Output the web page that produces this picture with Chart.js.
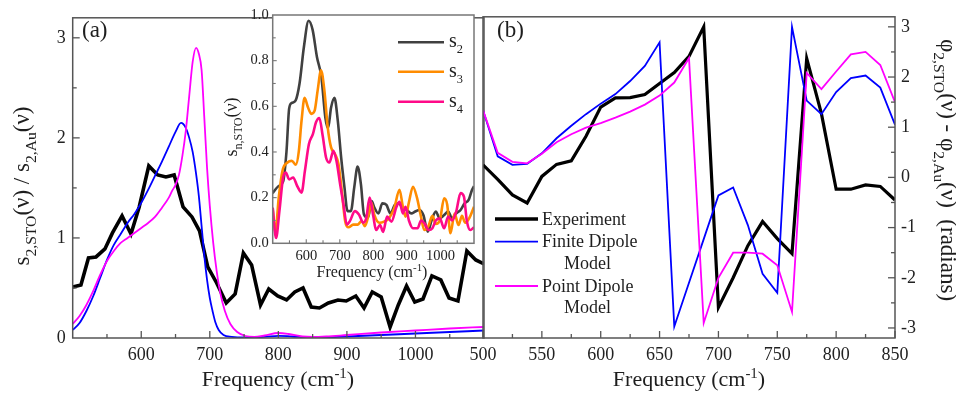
<!DOCTYPE html>
<html><head><meta charset="utf-8">
<script src="https://cdn.jsdelivr.net/npm/chart.js@4.4.1/dist/chart.umd.min.js"></script>
<style>
html,body{margin:0;padding:0;background:#fff;}
#wrap{position:relative;width:956px;height:394px;overflow:hidden;background:#fff;}
canvas{position:absolute;top:0;}
</style></head><body>
<div id="wrap">
<canvas id="ca" width="490" height="394" style="left:0px;top:0px"></canvas>
<canvas id="cb" width="493" height="394" style="left:463px;top:0px"></canvas>
<canvas id="ci" width="267" height="290" style="left:215px;top:0px"></canvas>
</div>
<script>
// ---------- Panel (a): amplitude ratio ----------
const aExpX = [500,512,523,534,547,558,572,585,597,611,624,636,648,661,674,685,697,710,724,737,749,761,774,786,799,812,824,836,848,860,873,887,899,913,925,937,950,963,975,987,999,1011,1024,1037,1049,1062,1075,1088,1100];
const aExpY = [0.51,0.53,0.80,0.81,0.89,1.05,1.22,1.04,1.31,1.72,1.63,1.61,1.63,1.31,1.21,1.07,0.71,0.55,0.35,0.44,0.85,0.73,0.33,0.49,0.42,0.38,0.46,0.50,0.31,0.30,0.35,0.38,0.37,0.42,0.30,0.46,0.41,0.11,0.33,0.52,0.36,0.39,0.62,0.58,0.40,0.37,0.87,0.78,0.74];
const aFinX = [500,510,520,530,540,550,560,570,580,590,600,610,620,630,640,650,658,665,670,675,680,684,688,692,696,700,704,708,713,720,732,750,780,800,820,850,900,950,1000,1050,1100];
const aFinY = [0.08,0.15,0.27,0.42,0.60,0.78,0.93,1.04,1.15,1.24,1.35,1.48,1.62,1.76,1.91,2.06,2.15,2.10,2.0,1.86,1.64,1.42,1.12,0.82,0.58,0.40,0.27,0.16,0.08,0.03,0.012,0.005,0.012,0.022,0.015,0.005,0.015,0.03,0.045,0.06,0.075];
const aPtX = [500,510,520,530,540,550,560,570,580,590,600,610,620,630,640,645,650,655,660,665,670,675,680,684,688,692,696,700,705,710,715,722,730,740,752,765,780,800,815,835,850,870,900,950,1000,1050,1100];
const aPtY = [0.14,0.22,0.33,0.47,0.63,0.77,0.87,0.95,1.0,1.05,1.1,1.15,1.21,1.30,1.40,1.47,1.53,1.63,1.82,2.07,2.42,2.76,2.9,2.84,2.68,2.2,1.7,1.32,0.95,0.67,0.46,0.27,0.14,0.06,0.02,0.012,0.025,0.05,0.04,0.015,0.01,0.015,0.03,0.055,0.075,0.095,0.11];
const aXTicks = [600,700,800,900,1000];
const aYTicks = [0,1,2,3];

// ---------- Inset: s_n,STO ----------
const s2X = [500,517,531,541,549,557,568,580,593,607,619,632,645,657,665,674,684,694,704,714,723,733,743,753,763,772,784,795,802,815,827,839,851,864,876,888,900,913,925,937,949,962,974,986,998,1011,1023,1035,1047,1060,1072,1084,1094,1100];
const s2Y = [0.22,0.25,0.27,0.40,0.59,0.615,0.625,0.70,0.86,0.975,0.935,0.815,0.73,0.55,0.505,0.595,0.637,0.537,0.376,0.244,0.141,0.141,0.244,0.336,0.258,0.126,0.112,0.185,0.16,0.131,0.175,0.168,0.131,0.168,0.175,0.153,0.146,0.131,0.139,0.146,0.124,0.051,0.102,0.139,0.109,0.124,0.139,0.109,0.131,0.146,0.175,0.19,0.234,0.25];
const s3X = [500,508,518,529,544,557,569,578,586,595,605,615,625,634,644,654,664,674,686,696,706,716,726,740,753,765,775,786,794,803,818,832,847,862,878,888,896,906,918,930,942,952,964,976,986,998,1011,1020,1030,1042,1054,1064,1074,1086,1100];
const s3Y = [0.15,0.05,0.2,0.317,0.354,0.361,0.344,0.405,0.537,0.637,0.596,0.567,0.581,0.67,0.758,0.67,0.508,0.42,0.39,0.347,0.229,0.097,0.07,0.082,0.082,0.097,0.075,0.126,0.178,0.124,0.09,0.095,0.11,0.153,0.234,0.16,0.117,0.18,0.248,0.2,0.117,0.058,0.075,0.12,0.085,0.1,0.197,0.17,0.044,0.13,0.08,0.12,0.09,0.11,0.16];
const s4X = [500,510,520,531,539,549,561,573,586,596,608,620,629,639,649,659,669,681,691,701,711,721,730,745,757,770,779,789,800,808,820,829,841,854,869,878,888,896,906,918,932,942,952,965,976,986,998,1011,1023,1035,1047,1060,1070,1079,1089,1100];
const s4Y = [0.156,0.023,0.141,0.288,0.31,0.28,0.288,0.251,0.222,0.317,0.435,0.479,0.53,0.549,0.471,0.376,0.354,0.405,0.354,0.258,0.17,0.082,0.097,0.141,0.126,0.09,0.112,0.2,0.117,0.058,0.08,0.05,0.117,0.095,0.16,0.182,0.131,0.16,0.10,0.066,0.066,0.10,0.088,0.058,0.066,0.10,0.109,0.066,0.117,0.10,0.139,0.22,0.204,0.095,0.058,0.07];
const iXTicks = [600,700,800,900,1000];
const iYTicks = [0,0.2,0.4,0.6,0.8,1.0];

// ---------- Panel (b): phase ----------
const bX = [500,512.5,525,537.5,550,562.5,575,587.5,600,612.5,625,637.5,650,662.5,675,687.5,700,712.5,725,737.5,750,762.5,775,787.5,800,812.5,825,837.5,850];
const bExp = [0.25,-0.04,-0.35,-0.51,0.02,0.26,0.33,0.82,1.40,1.585,1.59,1.65,1.87,2.09,2.41,3.0,-2.59,-2.0,-1.36,-0.88,-1.22,-1.52,2.37,1.27,-0.235,-0.235,-0.15,-0.18,-0.45];
const bFin = [1.34,0.42,0.25,0.27,0.48,0.78,1.03,1.26,1.47,1.66,1.92,2.22,2.69,-2.97,-2.10,-1.23,-0.36,-0.2,-0.95,-1.92,-2.3,3.0,1.53,1.26,1.70,1.98,2.03,1.79,1.05];
const bPt  = [1.34,0.49,0.31,0.28,0.47,0.70,0.86,0.99,1.08,1.19,1.31,1.45,1.63,1.89,2.38,-2.9,-2.0,-1.5,-1.5,-1.52,-1.75,-2.68,2.08,1.76,2.11,2.45,2.5,2.24,1.5];
const bXTicks = [500,550,600,650,700,750,800,850];
const bYTicks = [-3,-2,-1,0,1,2,3];

const SERIF = "'Liberation Serif','Times New Roman',serif";
const zip = (xs, ys) => xs.map((x, i) => ({x: x, y: ys[i]}));
const range = (a, b, s) => { const r = []; for (let v = a; v <= b + 1e-9; v += s) r.push(+v.toFixed(4)); return r; };

function drawRich(ctx, it, ox, oy) {
  const size = it.size, ss = it.subScale || 0.68;
  const segs = []; let w = 0;
  for (const p of it.parts) {
    const fs = p[1] === 'n' ? size : size * ss;
    ctx.font = fs + 'px ' + SERIF;
    const tw = ctx.measureText(p[0]).width;
    segs.push({t: p[0], k: p[1], fs: fs, tw: tw}); w += tw;
  }
  ctx.save();
  ctx.translate(it.x - ox, it.y - oy);
  ctx.rotate((it.rot || 0) * Math.PI / 180);
  ctx.fillStyle = it.color || '#1e1e1e';
  ctx.textBaseline = 'alphabetic';
  ctx.textAlign = 'left';
  let x = it.align === 'left' ? 0 : -w / 2;
  for (const s of segs) {
    ctx.font = s.fs + 'px ' + SERIF;
    const dy = s.k === 'sub' ? size * 0.3 : (s.k === 'sup' ? -size * 0.38 : 0);
    ctx.fillText(s.t, x, dy);
    x += s.tw;
  }
  ctx.restore();
}

const deco = {
  id: 'deco',
  beforeDraw(chart, args, o) {
    if (o.fill) {
      const a = chart.chartArea, ctx = chart.ctx;
      ctx.save(); ctx.fillStyle = o.fill; ctx.fillRect(a.left, a.top, a.right - a.left, a.bottom - a.top); ctx.restore();
    }
  },
  afterDraw(chart, args, o) {
    const ctx = chart.ctx, a = chart.chartArea;
    ctx.save();
    ctx.strokeStyle = o.frameColor || '#555';
    ctx.lineWidth = o.frameWidth || 1.5;
    ctx.strokeRect(a.left, a.top, a.right - a.left, a.bottom - a.top);
    for (const t of (o.ticks || [])) {
      const sc = chart.scales[t.axis];
      const draw = (vals, len) => {
        for (const v of vals) {
          const p = sc.getPixelForValue(v);
          ctx.beginPath();
          if (t.side === 'bottom') { ctx.moveTo(p, a.bottom); ctx.lineTo(p, a.bottom - len); }
          else if (t.side === 'left') { ctx.moveTo(a.left, p); ctx.lineTo(a.left + len, p); }
          else if (t.side === 'right') { ctx.moveTo(a.right, p); ctx.lineTo(a.right - len, p); }
          ctx.stroke();
        }
      };
      ctx.lineWidth = t.lw || 1.3;
      draw(t.major, t.majorLen);
      draw(t.minor, t.minorLen);
    }
    for (const l of (o.legend || [])) {
      const ds = chart.data.datasets[l.ds];
      ctx.strokeStyle = ds.borderColor; ctx.lineWidth = l.lw || ds.borderWidth;
      ctx.beginPath(); ctx.moveTo(l.x1 - o.ox, l.y - o.oy); ctx.lineTo(l.x2 - o.ox, l.y - o.oy); ctx.stroke();
    }
    for (const it of (o.texts || [])) drawRich(ctx, it, o.ox, o.oy);
    ctx.restore();
  }
};

function yScale(min, max, ticks, width, extra) {
  return Object.assign({
    type: 'linear', min: min, max: max,
    grid: {display: false, drawTicks: false}, border: {display: false},
    afterBuildTicks: s => { s.ticks = ticks.map(v => ({value: v})); },
    afterFit: s => { s.width = width; }
  }, extra);
}
function xScale(min, max, ticks, height, extra) {
  return Object.assign({
    type: 'linear', min: min, max: max,
    grid: {display: false, drawTicks: false}, border: {display: false},
    afterBuildTicks: s => { s.ticks = ticks.map(v => ({value: v})); },
    afterFit: s => { s.height = height; }
  }, extra);
}
const baseOpts = {responsive: false, animation: false, devicePixelRatio: 1, events: []};

// ---------- Chart (a) ----------
new Chart(document.getElementById('ca'), {
  type: 'line',
  data: {datasets: [
    {label: 'Experiment', data: zip(aExpX, aExpY), borderColor: '#000', borderWidth: 3.6, pointRadius: 0, tension: 0, order: 3},
    {label: 'Finite Dipole Model', data: zip(aFinX, aFinY), borderColor: '#0000ff', borderWidth: 1.8, pointRadius: 0, cubicInterpolationMode: 'monotone', order: 2},
    {label: 'Point Dipole Model', data: zip(aPtX, aPtY), borderColor: '#ff00ff', borderWidth: 1.8, pointRadius: 0, cubicInterpolationMode: 'monotone', order: 1}
  ]},
  options: Object.assign({}, baseOpts, {
    layout: {padding: {left: 0, right: 6, top: 8, bottom: 0}},
    scales: {
      x: xScale(500, 1100, aXTicks, 56, {ticks: {callback: v => String(v), autoSkip: false, maxRotation: 0, color: '#222', padding: 6, font: {family: SERIF, size: 18}}}),
      y: yScale(0, 3.2, aYTicks, 72.7, {ticks: {callback: v => String(v), autoSkip: false, color: '#222', padding: 7, font: {family: SERIF, size: 18}}})
    },
    plugins: {
      legend: {display: false}, tooltip: {enabled: false},
      deco: {
        ox: 0, oy: 0,
        ticks: [
          {axis: 'x', side: 'bottom', major: aXTicks, minor: range(550, 1050, 100), majorLen: 7, minorLen: 4},
          {axis: 'y', side: 'left', major: [1, 2, 3], minor: [0.5, 1.5, 2.5], majorLen: 7, minorLen: 4}
        ],
        texts: [
          {x: 278, y: 386, size: 22, parts: [['Frequency (cm', 'n'], ['-1', 'sup'], [')', 'n']]},
          {x: 29, y: 186, rot: -90, size: 23, parts: [['s', 'n'], ['2,STO', 'sub'], ['(ν) / s', 'n'], ['2,Au', 'sub'], ['(ν)', 'n']]},
          {x: 82, y: 37, size: 23, align: 'left', parts: [['(a)', 'n']]}
        ]
      }
    }
  }),
  plugins: [deco]
});

// ---------- Chart (b) ----------
new Chart(document.getElementById('cb'), {
  type: 'line',
  data: {datasets: [
    {label: 'Experiment', data: zip(bX, bExp), borderColor: '#000', borderWidth: 3.2, pointRadius: 0, tension: 0, order: 3},
    {label: 'Finite Dipole Model', data: zip(bX, bFin), borderColor: '#0000ff', borderWidth: 1.8, pointRadius: 0, tension: 0, order: 2},
    {label: 'Point Dipole Model', data: zip(bX, bPt), borderColor: '#ff00ff', borderWidth: 1.8, pointRadius: 0, tension: 0, order: 1}
  ]},
  options: Object.assign({}, baseOpts, {
    layout: {padding: {left: 20, right: 0, top: 8, bottom: 0}},
    scales: {
      x: xScale(500, 850, bXTicks, 56, {ticks: {callback: v => String(v), autoSkip: false, maxRotation: 0, color: '#222', padding: 6, font: {family: SERIF, size: 18}}}),
      y: yScale(-3.2, 3.2, bYTicks, 61, {position: 'right', ticks: {callback: v => String(v), autoSkip: false, color: '#222', padding: 6, font: {family: SERIF, size: 18}}})
    },
    plugins: {
      legend: {display: false}, tooltip: {enabled: false},
      deco: {
        ox: 463, oy: 0,
        ticks: [
          {axis: 'x', side: 'bottom', major: bXTicks, minor: range(525, 825, 50), majorLen: 7, minorLen: 4},
          {axis: 'y', side: 'right', major: bYTicks, minor: range(-2.5, 2.5, 1), majorLen: 7, minorLen: 4}
        ],
        legend: [
          {ds: 0, x1: 495, x2: 538, y: 219, lw: 3.6},
          {ds: 1, x1: 495, x2: 538, y: 241.7},
          {ds: 2, x1: 495, x2: 538, y: 286}
        ],
        texts: [
          {x: 689, y: 386, size: 22, parts: [['Frequency (cm', 'n'], ['-1', 'sup'], [')', 'n']]},
          {x: 941, y: 170, rot: 90, size: 23, parts: [['φ', 'n'], ['2,STO', 'sub'], ['(ν) - φ', 'n'], ['2,Au', 'sub'], ['(ν)  (radians)', 'n']]},
          {x: 497, y: 37, size: 23, align: 'left', parts: [['(b)', 'n']]},
          {x: 542, y: 225, size: 18, align: 'left', parts: [['Experiment', 'n']]},
          {x: 542, y: 247, size: 18, align: 'left', parts: [['Finite Dipole', 'n']]},
          {x: 564, y: 268.5, size: 18, align: 'left', parts: [['Model', 'n']]},
          {x: 542, y: 292, size: 18, align: 'left', parts: [['Point Dipole', 'n']]},
          {x: 564, y: 312.5, size: 18, align: 'left', parts: [['Model', 'n']]}
        ]
      }
    }
  }),
  plugins: [deco]
});

// ---------- Inset ----------
new Chart(document.getElementById('ci'), {
  type: 'line',
  data: {datasets: [
    {label: 's2', data: zip(s2X, s2Y), borderColor: '#404040', borderWidth: 2.6, pointRadius: 0, cubicInterpolationMode: 'monotone', order: 3},
    {label: 's3', data: zip(s3X, s3Y), borderColor: '#ff8c00', borderWidth: 2.6, pointRadius: 0, cubicInterpolationMode: 'monotone', order: 2},
    {label: 's4', data: zip(s4X, s4Y), borderColor: '#ff0a88', borderWidth: 2.6, pointRadius: 0, cubicInterpolationMode: 'monotone', order: 1}
  ]},
  options: Object.assign({}, baseOpts, {
    layout: {padding: {left: 0, right: 8, top: 15, bottom: 0}},
    scales: {
      x: xScale(500, 1100, iXTicks, 46.7, {ticks: {callback: v => String(v), autoSkip: false, maxRotation: 0, color: '#222', padding: 4, font: {family: SERIF, size: 14.5}}}),
      y: yScale(0, 1, iYTicks, 57.7, {ticks: {callback: v => v.toFixed(1), autoSkip: false, color: '#222', padding: 4, font: {family: SERIF, size: 14.5}}})
    },
    plugins: {
      legend: {display: false}, tooltip: {enabled: false},
      deco: {
        ox: 215, oy: 0, fill: '#fff', frameColor: '#777',
        ticks: [
          {axis: 'x', side: 'bottom', major: iXTicks, minor: range(550, 1050, 100), majorLen: 4, minorLen: 3, lw: 1.1},
          {axis: 'y', side: 'left', major: [0.2, 0.4, 0.6, 0.8], minor: [0.1, 0.3, 0.5, 0.7, 0.9], majorLen: 4, minorLen: 3, lw: 1.1}
        ],
        legend: [
          {ds: 0, x1: 398, x2: 444, y: 42.3},
          {ds: 1, x1: 398, x2: 444, y: 71.7},
          {ds: 2, x1: 398, x2: 444, y: 101.7}
        ],
        texts: [
          {x: 372, y: 277, size: 16, parts: [['Frequency (cm', 'n'], ['-1', 'sup'], [')', 'n']]},
          {x: 237, y: 127, rot: -90, size: 18, parts: [['s', 'n'], ['n,STO', 'sub'], ['(ν)', 'n']]},
          {x: 449, y: 47, size: 20, align: 'left', subScale: 0.62, parts: [['s', 'n'], ['2', 'sub']]},
          {x: 449, y: 76.5, size: 20, align: 'left', subScale: 0.62, parts: [['s', 'n'], ['3', 'sub']]},
          {x: 449, y: 106.5, size: 20, align: 'left', subScale: 0.62, parts: [['s', 'n'], ['4', 'sub']]}
        ]
      }
    }
  }),
  plugins: [deco]
});
</script>
</body></html>
